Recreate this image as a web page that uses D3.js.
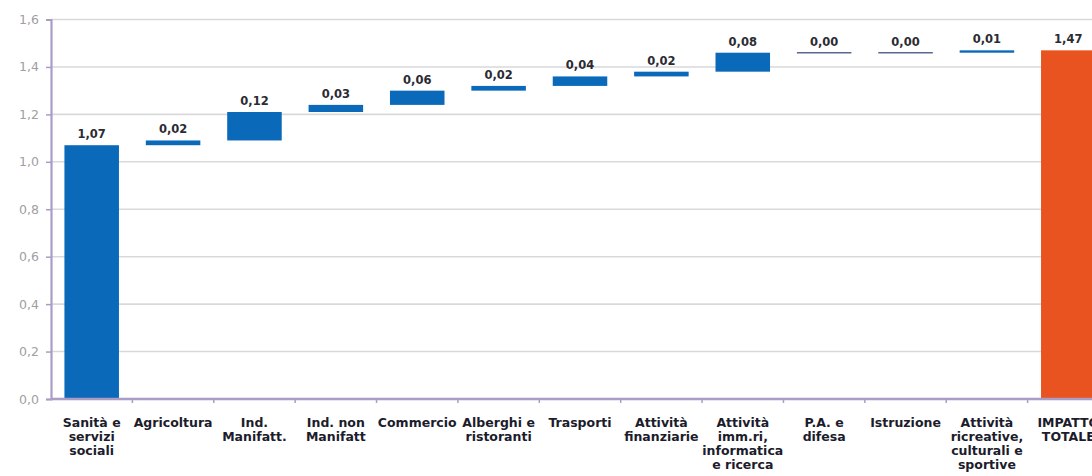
<!DOCTYPE html>
<html>
<head>
<meta charset="utf-8">
<script src="https://cdn.jsdelivr.net/npm/d3@7"></script>
<style>
  html, body { margin: 0; padding: 0; background: #ffffff; }
  svg { display: block; }
</style>
</head>
<body>
<svg id="chart" width="1092" height="476"></svg>
<script>
// Contributi per settore all'impatto totale (grafico a cascata)
const categories = [
  ["Sanità e", "servizi", "sociali"],
  ["Agricoltura"],
  ["Ind.", "Manifatt."],
  ["Ind. non", "Manifatt"],
  ["Commercio"],
  ["Alberghi e", "ristoranti"],
  ["Trasporti"],
  ["Attività", "finanziarie"],
  ["Attività", "imm.ri,", "informatica", "e ricerca"],
  ["P.A. e", "difesa"],
  ["Istruzione"],
  ["Attività", "ricreative,", "culturali e", "sportive"],
  ["IMPATTO", "TOTALE"]
];
const contributions = [1.07, 0.02, 0.12, 0.03, 0.06, 0.02, 0.04, 0.02, 0.08, 0.00, 0.00, 0.01];
const totalValue = 1.47;
const yTicks = [0, 0.2, 0.4, 0.6, 0.8, 1.0, 1.2, 1.4, 1.6];

const svg = d3.select("#chart");
const plot = { left: 51, top: 19.5, bottom: 399, right: 1109 };

// Floating segments: each starts where the previous one ended
let running = 0;
const bars = contributions.map((v, i) => {
  const d = { i, start: running, end: running + v, value: v, total: false };
  running += v;
  return d;
});
bars.push({ i: contributions.length, start: 0, end: totalValue, value: totalValue, total: true });

const x = d3.scaleBand()
  .domain(d3.range(categories.length))
  .range([plot.left, plot.right])
  .paddingInner(0.33)
  .paddingOuter(0.165);

const y = d3.scaleLinear().domain([0, 1.6]).range([plot.bottom, plot.top]);

const fmt = v => d3.format(".2f")(v).replace(".", ",");
const fmtTick = v => d3.format(".1f")(v).replace(".", ",");

// Horizontal gridlines
svg.append("g")
  .selectAll("line")
  .data(yTicks.filter(t => t > 0))
  .join("line")
  .attr("x1", plot.left).attr("x2", plot.right)
  .attr("y1", d => y(d)).attr("y2", d => y(d))
  .attr("stroke", "#d9d9dc")
  .attr("stroke-width", 1.6);

// Y axis
const yAxis = svg.append("g")
  .attr("transform", `translate(${plot.left},0)`)
  .call(d3.axisLeft(y).tickValues(yTicks).tickFormat(fmtTick).tickSize(5).tickPadding(7));
yAxis.select(".domain").attr("stroke", "#a99dc6").attr("stroke-width", 2.2);
yAxis.selectAll(".tick line").attr("stroke", "#a99dc6").attr("stroke-width", 1.5);
yAxis.selectAll(".tick text")
  .attr("fill", "#a0a0a0")
  .attr("font-family", "DejaVu Sans, Verdana, sans-serif")
  .attr("font-size", "12.5px");

// Bars
svg.append("g")
  .selectAll("rect")
  .data(bars)
  .join("rect")
  .attr("x", d => x(d.i))
  .attr("width", x.bandwidth())
  .attr("y", d => y(d.end))
  .attr("height", d => Math.max(0, y(d.start) - y(d.end)))
  .attr("fill", d => d.total ? "#e9531f" : "#0b69b9");

// Zero-value segments are shown as a thin line
svg.append("g")
  .selectAll("line")
  .data(bars.filter(d => y(d.start) - y(d.end) < 1.5))
  .join("line")
  .attr("x1", d => x(d.i)).attr("x2", d => x(d.i) + x.bandwidth())
  .attr("y1", d => y(d.end)).attr("y2", d => y(d.end))
  .attr("stroke", "#56698f")
  .attr("stroke-width", 1.6);

// Value labels
svg.append("g")
  .selectAll("text")
  .data(bars)
  .join("text")
  .attr("x", d => x(d.i) + x.bandwidth() / 2)
  .attr("y", d => y(d.end) - 7)
  .attr("text-anchor", "middle")
  .attr("font-family", "DejaVu Sans, Verdana, sans-serif")
  .attr("font-weight", "bold")
  .attr("font-size", "11.5px")
  .attr("fill", "#2b2b33")
  .text(d => fmt(d.value));

// X axis
const xAxis = svg.append("g")
  .attr("transform", `translate(0,${plot.bottom})`);
xAxis.append("line")
  .attr("x1", plot.left).attr("x2", plot.right)
  .attr("stroke", "#a99dc6").attr("stroke-width", 2.6);
xAxis.selectAll(".tk")
  .data(d3.range(1, categories.length))
  .join("line")
  .attr("class", "tk")
  .attr("x1", d => plot.left + d * x.step()).attr("x2", d => plot.left + d * x.step())
  .attr("y1", 0).attr("y2", 4)
  .attr("stroke", "#a99dc6").attr("stroke-width", 1.5);

// Category labels
const labels = svg.append("g")
  .selectAll("text")
  .data(categories)
  .join("text")
  .attr("x", (d, i) => x(i) + x.bandwidth() / 2)
  .attr("y", 427)
  .attr("text-anchor", "middle")
  .attr("font-family", "DejaVu Sans, Verdana, sans-serif")
  .attr("font-weight", "bold")
  .attr("font-size", "12.5px")
  .attr("fill", "#1c1c2c");
labels.selectAll("tspan")
  .data((d, i) => d.map(line => ({ line, i })))
  .join("tspan")
  .attr("x", d => x(d.i) + x.bandwidth() / 2)
  .attr("dy", (d, j) => j === 0 ? 0 : 14)
  .text(d => d.line);
</script>
</body>
</html>
